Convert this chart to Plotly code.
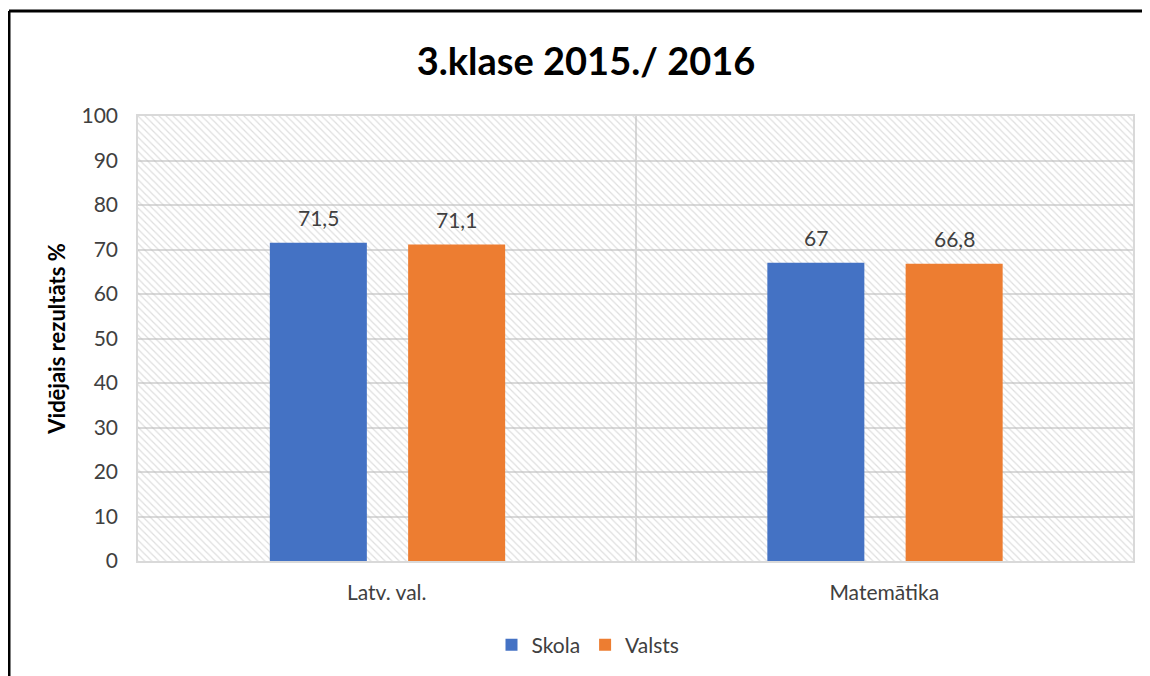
import plotly.graph_objects as go

categories = ["Latv. val.", "Matemātika"]
skola = [71.5, 67]
valsts = [71.1, 66.8]
series_names = ["Skola", "Valsts"]
y_ticks = [0, 10, 20, 30, 40, 50, 60, 70, 80, 90, 100]
title_text = "3.klase 2015./ 2016"
y_title = "Vidējais rezultāts %"

colors = ["#4472C4", "#ED7D31"]
bar_width = 0.195
offsets = [-0.235, 0.043]
FONT = "Lato"
W, H = 1142, 668  # page body adds an 8px offset
ML, MR, MT, MB = 130, 17, 108, 115

def fmt(v):
    return ("%g" % v).replace(".", ",")

fig = go.Figure()

# hatched plot-area background
fig.add_trace(go.Bar(
    x=categories, y=[y_ticks[-1]] * len(categories), width=1.0, offset=-0.5,
    marker=dict(color="rgba(0,0,0,0)", line=dict(width=0),
                pattern=dict(shape="\\", fgcolor="#bdbdbd", bgcolor="rgba(0,0,0,0)",
                             size=5, solidity=0.24)),
    showlegend=False, hoverinfo="skip"))

for name, vals, col, off in zip(series_names, [skola, valsts], colors, offsets):
    fig.add_trace(go.Bar(
        x=categories, y=vals, name=name, width=bar_width, offset=off,
        marker=dict(color=col, line=dict(width=0))))
    for i, v in enumerate(vals):
        fig.add_annotation(x=i + off + bar_width / 2, y=v, text=fmt(v),
                           showarrow=False, yanchor="bottom", yshift=11,
                           font=dict(family=FONT, size=21, color="#404040"))

# outer chart frame (only top and left edges fall inside the picture)
pw = W - ML - MR
ph = H - MT - MB
frame_l = (1 - ML) / pw
frame_r = (W - ML) / pw
frame_t = 1 + (MT - 3) / ph
frame_b = -(MB) / ph
fig.add_shape(type="line", xref="paper", yref="paper",
              x0=frame_l, x1=frame_r, y0=frame_t, y1=frame_t,
              line=dict(color="black", width=3), layer="above")
fig.add_shape(type="line", xref="paper", yref="paper",
              x0=frame_l, x1=frame_l, y0=frame_b, y1=frame_t,
              line=dict(color="black", width=3), layer="above")

fig.update_layout(
    width=W, height=H,
    margin=dict(l=ML, r=MR, t=MT, b=MB),
    paper_bgcolor="white", plot_bgcolor="white",
    barmode="overlay",
    title=dict(text="<b>" + title_text + "</b>", xref="container", x=578 / W,
               xanchor="center", yref="container", y=1 - 54 / H, yanchor="middle",
               font=dict(family=FONT, size=38, color="black")),
    legend=dict(orientation="h", xref="container", x=580 / W, xanchor="center",
                yref="container", y=1 - 637 / H, yanchor="middle",
                font=dict(family=FONT, size=21, color="#404040"),
                traceorder="normal"),
    font=dict(family=FONT, size=21, color="#404040"),
)
fig.update_xaxes(type="category", tickson="boundaries", showgrid=True,
                 gridcolor="#d9d9d9", gridwidth=1.5, showline=True, mirror=True,
                 linecolor="#d9d9d9", linewidth=1.5, ticks="",
                 range=[-0.5, 1.5], ticklabelstandoff=12,
                 tickfont=dict(family=FONT, size=21, color="#404040"))
fig.update_yaxes(range=[0, 100], tickvals=y_ticks, showgrid=True,
                 gridcolor="#d9d9d9", gridwidth=1.5, showline=True, mirror=True,
                 linecolor="#d9d9d9", linewidth=1.5, ticks="", zeroline=False,
                 ticklabelstandoff=14,
                 tickfont=dict(family=FONT, size=21, color="#404040"),
                 title=dict(text="<b>" + y_title + "</b>", standoff=10,
                            font=dict(family=FONT, size=22, color="black")))

fig.write_html("out.html", config={"displayModeBar": False})
